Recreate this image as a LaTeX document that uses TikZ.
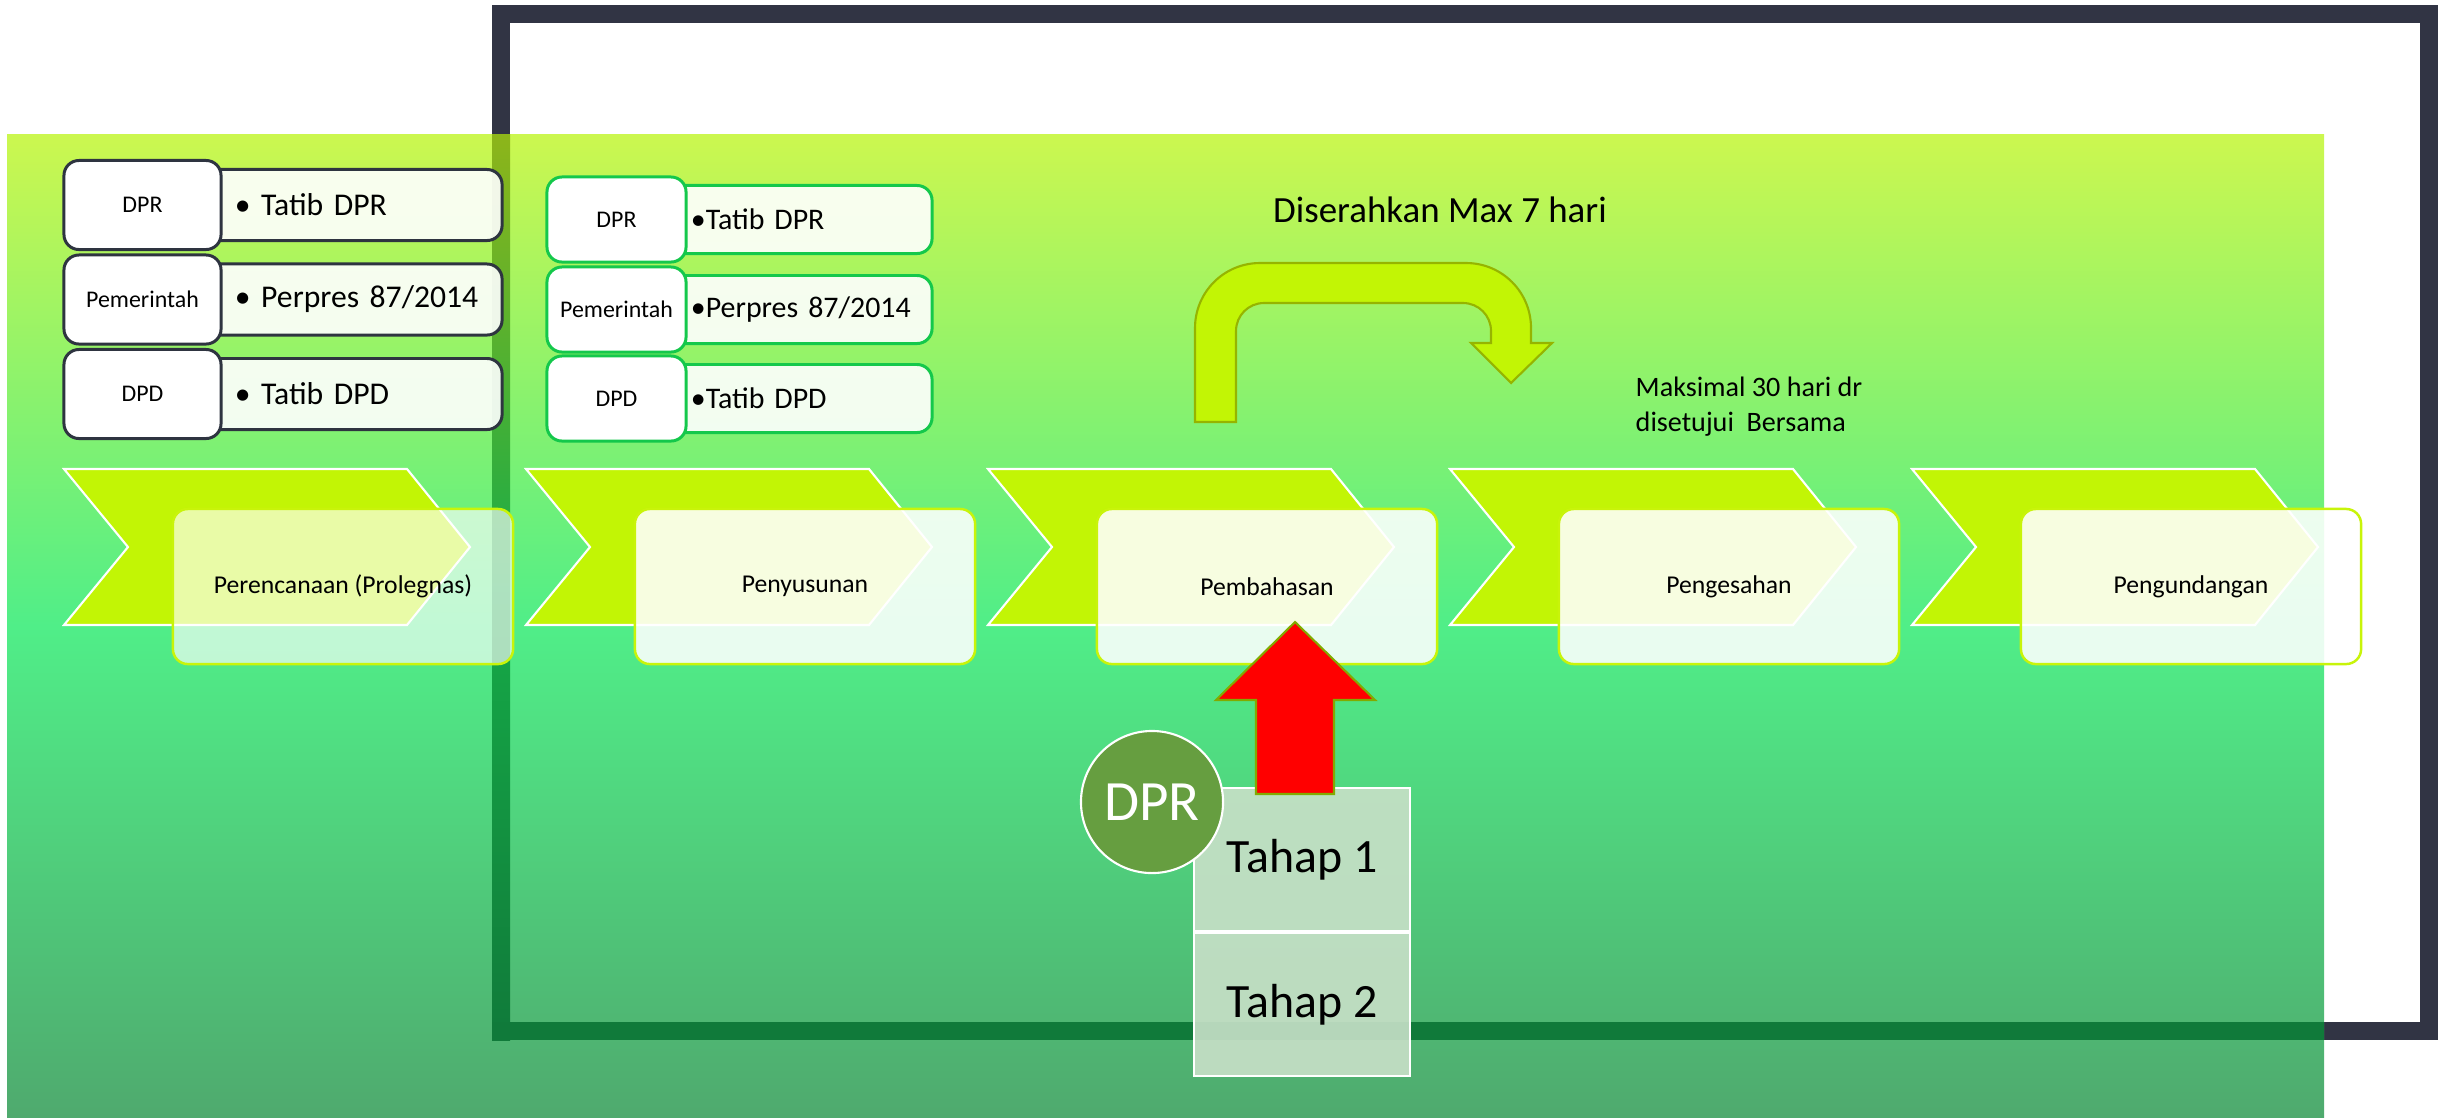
\documentclass[tikz,border=0pt]{standalone}
\usepackage{fontspec}
\setmainfont{Carlito}
\usetikzlibrary{positioning}
\definecolor{bandtop}{RGB}{204,247,79}
\definecolor{bandmid}{RGB}{80,238,136}
\definecolor{bandbot}{RGB}{79,170,110}
\definecolor{frameline}{RGB}{49,52,68}
\definecolor{ovtop}{RGB}{141,181,26}
\definecolor{ovmid}{RGB}{22,172,72}
\definecolor{ovbot}{RGB}{16,122,58}
\definecolor{chevfill}{RGB}{194,245,5}
\definecolor{stgline}{RGB}{200,244,10}
\definecolor{bentline}{RGB}{150,180,0}
\definecolor{redline}{RGB}{130,170,0}
\definecolor{darkline}{RGB}{46,52,64}
\definecolor{greenline}{RGB}{20,200,75}
\definecolor{dprgreen}{RGB}{102,158,64}
\definecolor{tahapfill}{RGB}{200,224,200}
\begin{document}
\begin{tikzpicture}[x=0.01cm,y=-0.01cm,
    lbla/.style={draw=darkline,line width=0.85pt,fill=white,rounded corners=0.15cm,
      minimum width=1.57cm,minimum height=0.89cm,inner sep=0pt,font=\fontsize{6.8pt}{8pt}\selectfont},
    itma/.style={draw=darkline,line width=0.85pt,fill=white,fill opacity=0.9,text opacity=1,
      rounded corners=0.15cm,minimum height=0.71cm,text width=2.32cm,inner xsep=0.35cm,
      inner ysep=0pt,align=left,font=\fontsize{9pt}{11pt}\selectfont},
    lblb/.style={lbla,draw=greenline,minimum width=1.39cm,minimum height=0.85cm},
    itmb/.style={itma,draw=greenline,minimum height=0.68cm,text width=2.2cm,inner xsep=0.21cm,
      font=\fontsize{8.5pt}{10pt}\selectfont},
    chev/.style={fill=chevfill,draw=white,line width=0.6pt},
    stg/.style={draw=stgline,line width=0.7pt,fill=white,text opacity=1,rounded corners=0.15cm,
      minimum width=3.4cm,minimum height=1.55cm,inner sep=0pt,font=\fontsize{7.3pt}{9pt}\selectfont},
    tahap/.style={draw=white,line width=0.6pt,fill=tahapfill,fill opacity=0.9,text opacity=1,
      minimum width=2.16cm,minimum height=1.43cm,inner sep=0pt,font=\fontsize{13.6pt}{16pt}\selectfont}]
  \useasboundingbox (0,0) rectangle (2440,1117);
  \draw[frameline,line width=0.18cm] (501,14) rectangle (2429,1031);
  \shade[top color=bandtop,bottom color=bandbot,middle color=bandmid] (7,134) rectangle (2324,1117);
  \shade[top color=ovtop,bottom color=ovbot,middle color=ovmid] (492,134) rectangle (510,1040);
  \fill[ovbot] (492,1022) rectangle (2324,1040);

  \node[itma] (ia1) at (351,205) {\mbox{• Tatib DPR}};
  \node[itma] (ia2) at (351,299.5) {\mbox{• Perpres 87/2014}};
  \node[itma] (ia3) at (351,394) {\mbox{• Tatib DPD}};
  \node[lbla] (la1) at (142.5,205) {DPR};
  \node[lbla] (la2) at (142.5,299.5) {Pemerintah};
  \node[lbla] (la3) at (142.5,394) {DPD};

  \node[itmb] (ib1) at (801,219.5) {\mbox{•Tatib DPR}};
  \node[itmb] (ib2) at (801,309.5) {\mbox{•Perpres 87/2014}};
  \node[itmb] (ib3) at (801,398.5) {\mbox{•Tatib DPD}};
  \node[lblb] (lb1) at (616.5,219.5) {DPR};
  \node[lblb] (lb2) at (616.5,309.5) {Pemerintah};
  \node[lblb] (lb3) at (616.5,398.5) {DPD};

  \foreach \i/\txt/\op in {0/{Perencanaan (Prolegnas)}/0.65,1/Penyusunan/0.88,
      2/Pembahasan/0.88,3/Pengesahan/0.88,4/Pengundangan/0.88}{
    \pgfmathsetmacro{\x}{64+462*\i}
    \draw[chev] (\x,469) -- ++(343,0) -- ++(63,78) -- ++(-63,78) -- ++(-343,0) -- ++(64,-78) -- cycle;
    \node[stg,fill opacity=\op] (st\i) at (\x+279,586.5) {\txt};
  }

  \node[anchor=base,font=\fontsize{10.5pt}{12pt}\selectfont] (serah) at (1440,222) {Diserahkan Max 7 hari};
  \draw[fill=chevfill,draw=bentline,line width=0.6pt] (1195,422) -- (1195,328)
    .. controls (1195,292) and (1224,263) .. (1260,263) -- (1466,263)
    .. controls (1502,263) and (1531,292) .. (1531,328) -- (1531,343) -- (1552,343)
    -- (1511,383) -- (1471,343) -- (1491,343) -- (1491,331)
    .. controls (1491,315.5) and (1478.5,303) .. (1463,303) -- (1264,303)
    .. controls (1248.5,303) and (1236,315.5) .. (1236,331) -- (1236,422) -- cycle;
  \node[anchor=west,align=left,inner sep=0pt,font=\fontsize{8pt}{10pt}\selectfont] (maks)
    at (1635,407) {Maksimal 30 hari dr\\disetujui~ Bersama};

  \node[tahap] (t1) at (1302,859.5) {Tahap 1};
  \node[tahap,below=0cm of t1] (t2) {Tahap 2};
  \draw[fill=red,draw=redline,line width=0.6pt] (1256,794) -- (1256,700) -- (1216,700)
    -- (1295,622) -- (1375,700) -- (1334,700) -- (1334,794) -- cycle;
  \node[circle,draw=white,line width=0.6pt,fill=dprgreen,minimum size=1.42cm,inner sep=0pt,
    text=white,font=\fontsize{16.2pt}{19pt}\selectfont] (dpr) at (1152,802) {DPR};
\end{tikzpicture}
\end{document}
